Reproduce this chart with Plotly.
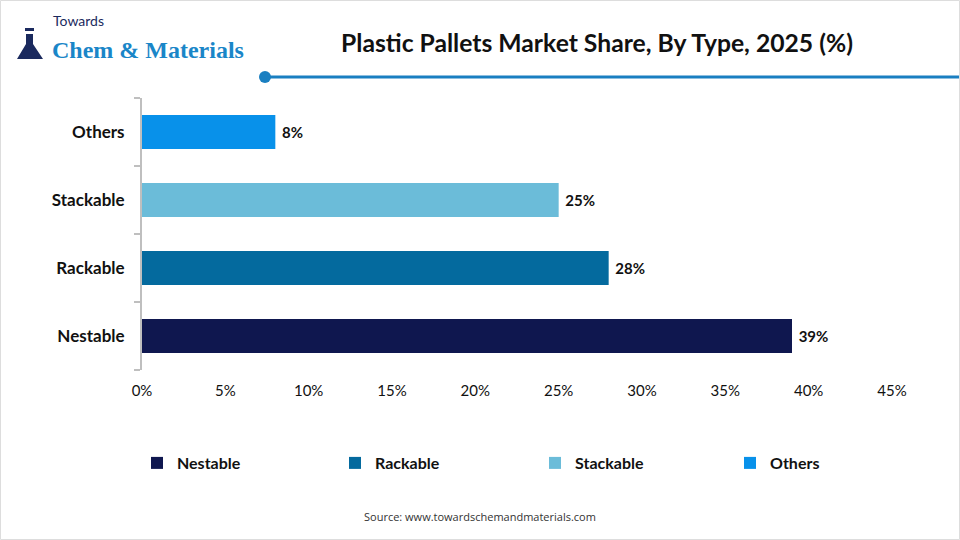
import plotly.graph_objects as go

categories = ["Nestable", "Rackable", "Stackable", "Others"]
values = [39, 28, 25, 8]
colors = ["#0f174f", "#046a9e", "#6bbcd9", "#0891ea"]
x_ticks = [0, 5, 10, 15, 20, 25, 30, 35, 40, 45]
x_tick_labels = [f"{v}%" for v in x_ticks]
legend_x_px = [137, 335, 535, 730]

FONT = "Lato, 'Open Sans', sans-serif"
PW, PH, L, T = 750, 272, 142, 98

def px(x):
    return (x - L) / PW

def py(y):
    return 1 + (T - y) / PH

fig = go.Figure()
legend_layout = {}
for i, (cat, val, col) in enumerate(zip(categories, values, colors)):
    lname = "legend" if i == 0 else f"legend{i + 1}"
    fig.add_trace(go.Bar(
        x=[val], y=[i], orientation="h", name=cat,
        marker=dict(color=col, line=dict(width=0)),
        width=0.5,
        text=[f"\u00a0{val}%"], textposition="outside",
        textfont=dict(family=FONT, size=15, color="#111111", weight="bold"),
        cliponaxis=False,
        hoverinfo="skip",
        legend=lname,
    ))
    legend_layout[lname] = dict(
        orientation="h", x=px(legend_x_px[i]), y=py(463), xanchor="left", yanchor="middle",
        font=dict(family=FONT, size=16, color="#111111", weight="bold"),
        itemwidth=30, bgcolor="rgba(0,0,0,0)",
    )

fig.update_layout(
    width=960, height=540,
    paper_bgcolor="white", plot_bgcolor="white",
    margin=dict(l=L, r=960 - L - PW, t=T, b=540 - T - PH),
    barmode="relative",
    showlegend=True,
    xaxis=dict(
        range=[0, 45], tickvals=x_ticks, ticktext=x_tick_labels,
        showgrid=False, zeroline=False, showline=False, ticks="",
        tickfont=dict(family=FONT, size=15, color="#111111"),
        ticklabelstandoff=10,
    ),
    yaxis=dict(
        range=[-0.5, 3.5], tickvals=list(range(len(categories))), ticktext=categories,
        showgrid=False, zeroline=False, showline=True, linecolor="#bfbfbf", linewidth=2,
        ticks="", tickfont=dict(family=FONT, size=17, color="#111111", weight="bold"),
        ticklabelstandoff=12,
        minor=dict(tickvals=[-0.5, 0.5, 1.5, 2.5, 3.5], ticks="outside", ticklen=6,
                   tickcolor="#bfbfbf", tickwidth=2, showgrid=False),
    ),
    **legend_layout,
)

# Title
fig.add_annotation(
    text="Plastic Pallets Market Share, By Type, 2025 (%)",
    xref="paper", yref="paper", x=px(597), y=py(42),
    xanchor="center", yanchor="middle", showarrow=False,
    font=dict(family=FONT, size=24.7, color="#111111", weight="bold"),
)

# Decorative line with dot
fig.add_shape(type="line", xref="paper", yref="paper",
              x0=px(265), x1=px(960), y0=py(77), y1=py(77),
              line=dict(color="#1a7fc1", width=3))
fig.add_shape(type="circle", xref="paper", yref="paper",
              x0=px(259), x1=px(271), y0=py(83), y1=py(71),
              fillcolor="#1a7fc1", line=dict(width=0))

# Logo text
fig.add_annotation(text="Towards", xref="paper", yref="paper",
                   x=px(51), y=py(21),
                   xanchor="left", yanchor="middle", showarrow=False,
                   font=dict(family=FONT, size=14, color="#1b2a5e"))
fig.add_annotation(text="Chem &amp; Materials", xref="paper", yref="paper",
                   x=px(50), y=py(50),
                   xanchor="left", yanchor="middle", showarrow=False,
                   font=dict(family="'Liberation Serif', serif", size=24,
                             color="#1a86c8", weight="bold"))
# simple flask icon
fig.add_shape(type="path", xref="paper", yref="paper",
              path=" ".join([
                  f"M {px(26)},{py(34)}",
                  f"L {px(33)},{py(34)}",
                  f"L {px(33)},{py(44)}",
                  f"L {px(43)},{py(59)}",
                  f"L {px(17)},{py(59)}",
                  f"L {px(26)},{py(44)} Z",
              ]),
              fillcolor="#1b2a5e", line=dict(width=0))
fig.add_shape(type="rect", xref="paper", yref="paper",
              x0=px(25), x1=px(34), y0=py(31), y1=py(28),
              fillcolor="#1b2a5e", line=dict(width=0))

# Source
fig.add_annotation(text="Source: www.towardschemandmaterials.com",
                   xref="paper", yref="paper",
                   x=px(480), y=py(516),
                   xanchor="center", yanchor="middle", showarrow=False,
                   font=dict(family="'Open Sans', sans-serif", size=11, color="#333333"))

# Border
fig.add_shape(type="rect", xref="paper", yref="paper",
              x0=px(0.5), x1=px(959.5), y0=py(539.5), y1=py(0.5),
              line=dict(color="#dddddd", width=1))

fig.write_html("out.html")
